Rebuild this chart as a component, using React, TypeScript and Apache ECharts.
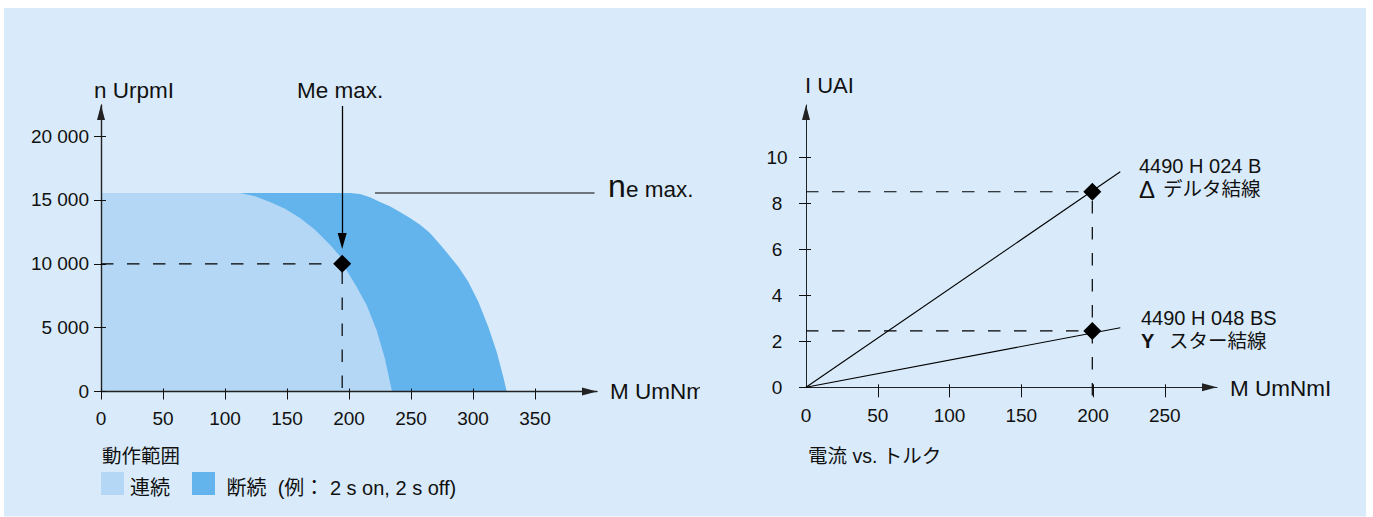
import React, { useEffect, useRef } from "react";
import * as echarts from "echarts";

const FONT = '"Liberation Sans","Noto Sans CJK JP",sans-serif';
const INK = "#111111";
const PANEL = "#D9EBFA";
const LIGHT = "#B4D7F5";
const DARK = "#63B3ED";

const LEGEND_TITLE = "動作範囲";
const CONTINUOUS_NAME = "連続";
const INTERMITTENT_NAME = "断続  (例： 2 s on, 2 s off)";

// Left chart: operating range
const speedTicks = [0, 5000, 10000, 15000, 20000];
const torqueTicksLeft = [0, 50, 100, 150, 200, 250, 300, 350];
const intermittentCurve: number[][] = [
  [0, 15550], [200.8, 15550], [208.9, 15470], [216.9, 15210], [225, 14840], [233, 14510], [241.1, 14060],
  [249.2, 13590], [257.3, 13065], [265.3, 12415], [275, 11340], [288.2, 9775], [296.2, 8600], [304.3, 7030],
  [312.3, 5075], [319.1, 3115], [324.4, 1160], [327.2, 0],
];
const continuousCurve: number[][] = [
  [0, 15550], [112.1, 15550], [124.2, 15290], [136.3, 14840], [148.4, 14320], [160.5, 13590], [172.6, 12675],
  [184.7, 11500], [192.7, 10590], [198.1, 9490], [206.2, 8185], [214.3, 6750], [222.3, 4795], [229, 2570], [234.7, 0],
];
const ratedPoint = [[194.5, 10000]];
const ratedGuideH = [[0, 10000], [194.5, 10000]];
const ratedGuideV = [[194.5, 9400], [194.5, 0]];
const ratedArrow = [[194.5, 22360], [194.5, 11785]];
const speedLeader = [[221, 15550], [398, 15550]];

// Right chart: current vs. torque
const currentTicks = [0, 2, 4, 6, 8, 10];
const torqueTicksRight = [0, 50, 100, 150, 200, 250];
const deltaLine = [[0, 0], [219, 9.37]];
const starLine = [[0, 0], [219, 2.59]];
const opPoints = [[199.5, 8.5], [199.5, 2.45]];
const deltaGuide = [[0, 8.5], [199.5, 8.5]];
const starGuide = [[0, 2.45], [199.5, 2.45]];
const verticalGuide = [[199.5, 8.1], [199.5, -0.42]];

const DASH = [12.5, 13.5];

function tickAxes(opts: any) {
  const { grid, dim, max, values, labels, down, up, margin, width, labelFmt, align, labelValues } = opts;
  const isX = dim === "x";
  const common = {
    type: "value",
    gridIndex: grid,
    min: 0,
    max,
    position: isX ? "bottom" : "left",
    splitLine: { show: false },
    z: 5,
  };
  const main = {
    ...common,
    axisLine: {
      show: true,
      onZero: false,
      symbol: ["none", "triangle"],
      symbolSize: [8, 15],
      symbolOffset: [0, -7.5],
      lineStyle: { color: "#222", width },
    },
    axisTick: { show: true, inside: false, length: down, customValues: values, lineStyle: { color: "#111", width: 1 } },
    axisLabel: {
      show: labels,
      customValues: labelValues,
      margin,
      fontFamily: FONT,
      fontSize: 19,
      color: INK,
      formatter: labelFmt,
      align,
      hideOverlap: false,
    },
  };
  const inner = {
    ...common,
    axisLine: { show: false, onZero: false },
    axisTick: { show: true, inside: true, length: up, customValues: values, lineStyle: { color: "#111", width: 1 } },
    axisLabel: { show: false },
  };
  return [main, inner];
}

const fmtSpeed = (v: number) =>
  v >= 1000 ? `${Math.floor(v / 1000)} ${String(v % 1000).padStart(3, "0")}` : String(v);

function guide(name: string, data: number[][], x: number, y: number, clip = true) {
  return {
    name,
    type: "line",
    xAxisIndex: x,
    yAxisIndex: y,
    data,
    symbol: "none",
    silent: true,
    clip,
    z: 6,
    lineStyle: { color: "#000", width: 1.2, type: DASH },
  };
}

function solid(name: string, data: number[][], x: number, y: number) {
  return {
    name,
    type: "line",
    xAxisIndex: x,
    yAxisIndex: y,
    data,
    symbol: "none",
    silent: true,
    z: 6,
    lineStyle: { color: "#000", width: 1.1, type: "solid" },
  };
}

function txt(text: string, x: number, y: number, fontSize = 19, extra: any = {}) {
  return {
    type: "text",
    x,
    y,
    z: 20,
    style: { text, x: 0, y: 0, fontFamily: FONT, fontSize, fill: INK, verticalAlign: "middle", ...extra },
  };
}

export default function App() {
  const ref = useRef<HTMLDivElement>(null);
  useEffect(() => {
    const chart = echarts.init(ref.current!, undefined, { renderer: "svg" });
    const leftX = tickAxes({ grid: 0, dim: "x", max: 400, values: torqueTicksLeft, labelValues: torqueTicksLeft, labels: true, down: 8, up: 3, margin: 17, width: 1.4 });
    const leftY = tickAxes({ grid: 0, dim: "y", max: 22440, values: speedTicks, labelValues: speedTicks, labels: true, down: 7, up: 5, margin: 12, width: 1.4, labelFmt: fmtSpeed });
    const rightX = tickAxes({ grid: 1, dim: "x", max: 286.4, values: torqueTicksRight.slice(1), labelValues: torqueTicksRight, labels: true, down: 10, up: 3, margin: 19, width: 1 });
    const rightY = tickAxes({ grid: 1, dim: "y", max: 12.27, values: currentTicks, labelValues: currentTicks, labels: true, down: 7, up: 5, margin: 29, width: 1, align: "center" });

    chart.setOption({
      animation: false,
      textStyle: { fontFamily: FONT },
      grid: [
        { left: 101, top: 105, width: 496, height: 286.5 },
        { left: 806, top: 105, width: 411, height: 282.3 },
      ],
      xAxis: [...leftX, ...rightX],
      yAxis: [...leftY, ...rightY],
      legend: {
        left: 101,
        top: 472,
        padding: 0,
        itemWidth: 23,
        itemHeight: 23,
        itemGap: 22,
        selectedMode: false,
        textStyle: {
          fontFamily: FONT,
          fontSize: 20,
          color: INK,
          rich: { t: { fontFamily: FONT, fontSize: 20, color: INK, lineHeight: 29, verticalAlign: "bottom", padding: [0, 0, 0, 1] } },
        },
        formatter: (n: string) => (n === INTERMITTENT_NAME ? `{t| ${n}}` : `{t|${n}}`),
        data: [
          { name: CONTINUOUS_NAME, icon: "rect", itemStyle: { color: LIGHT } },
          { name: INTERMITTENT_NAME, icon: "rect", itemStyle: { color: DARK } },
        ],
      },
      series: [
        {
          name: INTERMITTENT_NAME,
          type: "line",
          xAxisIndex: 0,
          yAxisIndex: 0,
          data: intermittentCurve,
          symbol: "none",
          z: 2,
          itemStyle: { color: DARK },
          lineStyle: { width: 0, color: DARK },
          areaStyle: { color: DARK, opacity: 1 },
        },
        {
          name: CONTINUOUS_NAME,
          type: "line",
          xAxisIndex: 0,
          yAxisIndex: 0,
          data: continuousCurve,
          symbol: "none",
          z: 3,
          itemStyle: { color: LIGHT },
          lineStyle: { width: 0, color: LIGHT },
          areaStyle: { color: LIGHT, opacity: 1 },
        },
        guide("rated-h", ratedGuideH, 0, 0),
        guide("rated-v", ratedGuideV, 0, 0),
        solid("speed-leader", speedLeader, 0, 0),
        {
          name: "rated",
          type: "scatter",
          xAxisIndex: 0,
          yAxisIndex: 0,
          data: ratedPoint,
          symbol: "diamond",
          symbolSize: 18,
          z: 8,
          silent: true,
          itemStyle: { color: "#000", opacity: 1 },
          markLine: {
            silent: true,
            animation: false,
            symbol: ["none", "triangle"],
            symbolSize: [9, 16],
            label: { show: false },
            lineStyle: { color: "#000", width: 1.3, type: "solid" },
            data: [[{ coord: ratedArrow[0] }, { coord: ratedArrow[1] }]],
          },
        },
        solid("delta", deltaLine, 2, 2),
        solid("star", starLine, 2, 2),
        guide("delta-h", deltaGuide, 2, 2),
        guide("star-h", starGuide, 2, 2),
        guide("op-v", verticalGuide, 2, 2, false),
        {
          name: "op",
          type: "scatter",
          xAxisIndex: 2,
          yAxisIndex: 2,
          data: opPoints,
          symbol: "diamond",
          symbolSize: 18,
          z: 8,
          silent: true,
          itemStyle: { color: "#000", opacity: 1 },
        },
      ],
      graphic: [
        { type: "rect", z: -10, shape: { x: 4, y: 8, width: 1362, height: 508.5 }, style: { fill: PANEL } },
        txt("n UrpmI", 94, 90, 22.5),
        txt("Me max.", 297, 90, 22.5),
        txt("M UmNm", 610, 391, 22.5),
        { type: "rect", z: 21, shape: { x: 700, y: 375, width: 30, height: 32 }, style: { fill: PANEL } },
        txt("n", 608, 186, 32),
        txt("e max.", 626, 189, 22.5),
        txt(LEGEND_TITLE, 102, 456, 19.5),
        txt("I UAI", 805, 85, 22),
        txt("M UmNmI", 1230, 388, 22.5),
        txt("4490 H 024 B", 1139, 166, 20),
        txt("Δ", 1139, 189, 24),
        txt("デルタ結線", 1163, 189, 19.5),
        txt("4490 H 048 BS", 1141, 318, 20),
        txt("Y", 1141, 341, 20, { fontWeight: "bold" }),
        txt("スター結線", 1169, 341, 19.5),
        txt("電流 vs. トルク", 808, 456, 19.5),
      ],
    });
    return () => chart.dispose();
  }, []);
  return <div ref={ref} style={{ position: "absolute", left: 0, top: 0, width: 1373, height: 517 }} />;
}
